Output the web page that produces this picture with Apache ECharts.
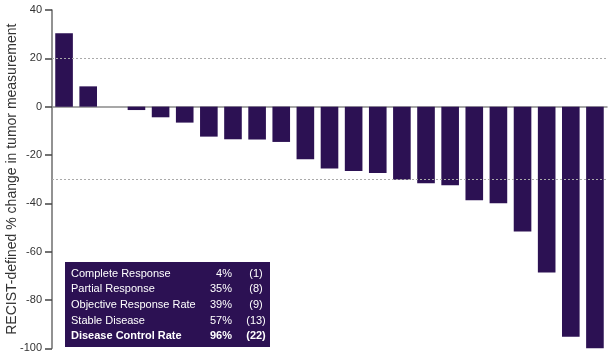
<!DOCTYPE html>
<html><head><meta charset="utf-8">
<script src="https://cdn.jsdelivr.net/npm/echarts@6/dist/echarts.min.js"></script>
<style>html,body{margin:0;padding:0;background:#fff}#c{width:613px;height:358px}</style>
</head><body><div id="c"></div>
<script>
const patients = Array.from({length:23},(_,i)=>'P'+(i+1));
const changeValues = [30.4, 8.4, 0, -1.4, -4.4, -6.6, -12.4, -13.5, -13.6, -14.6, -21.8, -25.6, -26.6, -27.5, -30.2, -31.7, -32.5, -38.7, -40, -51.7, -68.6, -95.2, -100];
const yTicks = [-100, -80, -60, -40, -20, 0, 20, 40];
const refLines = [20, -30];
const tableLabels = ['Complete Response','Partial Response','Objective Response Rate','Stable Disease','Disease Control Rate'];
const tablePct = ['4%','35%','39%','57%','96%'];
const tableN = ['(1)','(8)','(9)','(13)','(22)'];
const yAxisName = 'RECIST-defined % change in tumor measurement';

const chart = echarts.init(document.getElementById('c'), null, {renderer:'canvas'});
const font = 'Arial, "Liberation Sans", sans-serif';
const graphics = [{
  type:'rect', shape:{x:65,y:262,width:205,height:85}, style:{fill:'#2c1153'}, z:100
}];
tableLabels.forEach((t,i)=>{
  const y = 273.7 + i*15.6;
  const bold = i===tableLabels.length-1 ? 'bold' : 'normal';
  graphics.push({type:'text', x:71, y:y, z:101, style:{text:t, fill:'#fff', font:bold+' 11px '+font, textVerticalAlign:'middle', textAlign:'left'}});
  graphics.push({type:'text', x:232, y:y, z:101, style:{text:tablePct[i], fill:'#fff', font:bold+' 11px '+font, textVerticalAlign:'middle', textAlign:'right'}});
  graphics.push({type:'text', x:256, y:y, z:101, style:{text:tableN[i], fill:'#fff', font:bold+' 11px '+font, textVerticalAlign:'middle', textAlign:'center'}});
});
chart.setOption({
  animation:false,
  grid:{left:52, right:6, top:10, bottom:358-348.3, containLabel:false, outerBoundsMode:'none'},
  xAxis:{type:'category', data:patients, position:'bottom',
    axisLine:{onZero:true, lineStyle:{color:'#8a8a8a', width:1.5}},
    axisTick:{show:false}, axisLabel:{show:false}, splitLine:{show:false}},
  yAxis:{type:'value', position:'left', min:yTicks[0], max:yTicks[yTicks.length-1], interval:20,
    name:yAxisName, nameLocation:'middle', nameGap:33, nameRotate:90, nameMoveOverlap:false,
    nameTextStyle:{fontSize:14, color:'#333', fontFamily:font},
    axisLine:{show:true, onZero:false, lineStyle:{color:'#6e6e6e', width:1.5}},
    axisTick:{show:true, inside:false, length:7, lineStyle:{color:'#444', width:1.5}},
    axisLabel:{fontSize:11, color:'#333', margin:10, fontFamily:font},
    splitLine:{show:false}},
  series:[{type:'bar', data:changeValues, barCategoryGap:'27%',
    itemStyle:{color:'#2c1153'},
    markLine:{silent:true, symbol:'none', label:{show:false},
      lineStyle:{type:[2,2], color:'#aaa', width:1},
      data:refLines.map(v=>({yAxis:v}))}}],
  graphic:graphics
});
</script></body></html>
